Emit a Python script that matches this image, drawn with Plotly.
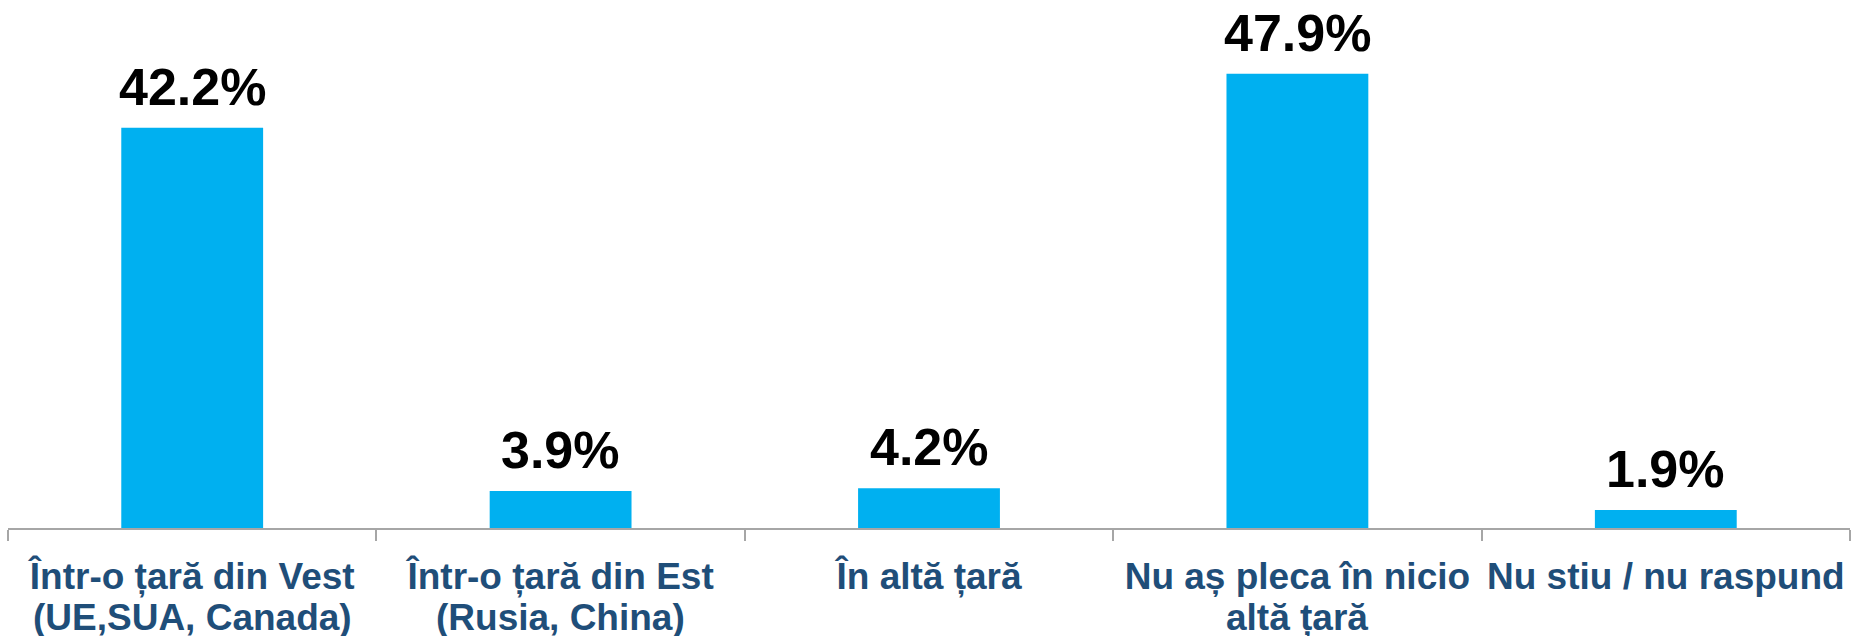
import plotly.graph_objects as go

categories = [
    "Într-o țară din Vest (UE,SUA, Canada)",
    "Într-o țară din Est (Rusia, China)",
    "În altă țară",
    "Nu aș pleca în nicio altă țară",
    "Nu stiu / nu raspund",
]
label_line1 = [
    "Într-o țară din Vest",
    "Într-o țară din Est",
    "În altă țară",
    "Nu aș pleca în nicio",
    "Nu stiu / nu raspund",
]
label_line2 = [
    "(UE,SUA, Canada)",
    "(Rusia, China)",
    "",
    "altă țară",
    "",
]
values = [42.2, 3.9, 4.2, 47.9, 1.9]
labels = ["42.2%", "3.9%", "4.2%", "47.9%", "1.9%"]

BAR_COLOR = "#00B0F0"
CAT_COLOR = "#1F4E79"
FONT = "Liberation Sans, Arial, sans-serif"

fig = go.Figure()
fig.add_trace(go.Bar(
    x=categories,
    y=values,
    marker=dict(color=BAR_COLOR, line=dict(width=0)),
    width=0.385,
    hoverinfo="skip",
))

for c, v, t in zip(categories, values, labels):
    fig.add_annotation(
        x=c, y=v, text=f"<b>{t}</b>", showarrow=False,
        xanchor="center", yanchor="bottom", yshift=10,
        font=dict(family=FONT, size=52, color="#000000"),
    )

for c, t in zip(categories, label_line2):
    if t:
        fig.add_annotation(
            x=c, y=0, text=f"<b>{t}</b>", showarrow=False,
            xanchor="center", yanchor="top", yshift=-67,
            font=dict(family=FONT, size=37, color=CAT_COLOR),
        )

fig.update_layout(
    width=1851, height=636, autosize=False,
    margin=dict(l=8, r=1, t=10, b=108, pad=0),
    paper_bgcolor="white", plot_bgcolor="white",
    showlegend=False,
)
fig.update_xaxes(
    type="category",
    tickmode="array", tickvals=categories, ticktext=label_line1,
    showline=True, linecolor="#A6A6A6", linewidth=1.5,
    ticks="outside", tickson="boundaries", ticklen=11, tickcolor="#A6A6A6", tickwidth=1.5,
    tickfont=dict(family=FONT, size=37, color=CAT_COLOR, weight="bold"),
    showgrid=False, zeroline=False,
    ticklabelstandoff=15,
)
fig.update_yaxes(
    range=[0, 54.62], visible=False, showgrid=False, zeroline=False,
)

fig.write_html(
    "out.html",
    config={"displayModeBar": False},
    post_script="document.body.style.margin='0';document.body.style.overflow='hidden';",
)
